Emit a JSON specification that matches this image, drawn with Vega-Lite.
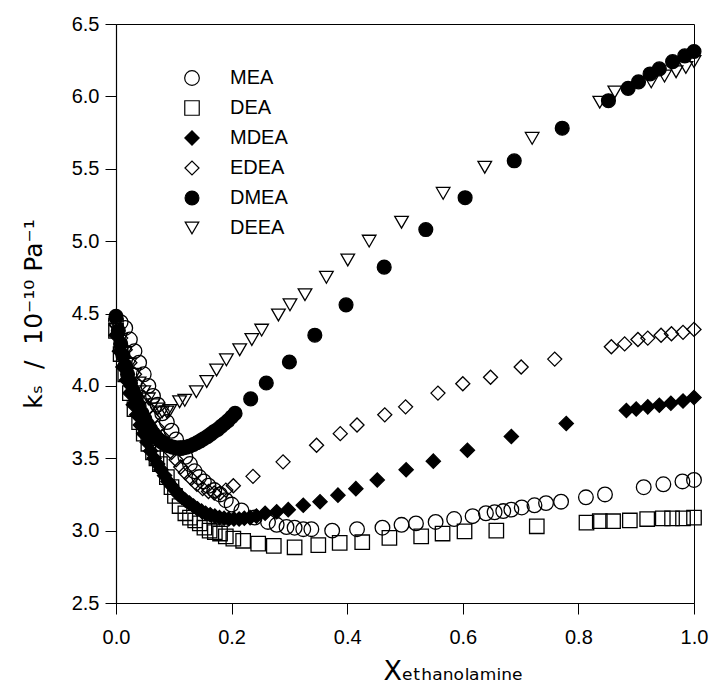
{
  "$schema": "https://vega.github.io/schema/vega-lite/v6.json",
  "width": 578,
  "height": 579,
  "autosize": {"type": "none"},
  "padding": {"left": 116, "top": 24, "right": 16, "bottom": 94},
  "config": {
    "font": "Liberation Sans",
    "view": {"stroke": "black", "strokeWidth": 1}
  },
  "data": {"values": [
    {"series":"MEA","x":0.0,"y":4.45},{"series":"MEA","x":0.008,"y":4.44},{"series":"MEA","x":0.016,"y":4.40},{"series":"MEA","x":0.024,"y":4.32},{"series":"MEA","x":0.032,"y":4.24},{"series":"MEA","x":0.04,"y":4.16},{"series":"MEA","x":0.048,"y":4.08},{"series":"MEA","x":0.056,"y":4.0},{"series":"MEA","x":0.064,"y":3.93},{"series":"MEA","x":0.072,"y":3.87},{"series":"MEA","x":0.08,"y":3.81},{"series":"MEA","x":0.088,"y":3.75},{"series":"MEA","x":0.096,"y":3.69},{"series":"MEA","x":0.104,"y":3.63},{"series":"MEA","x":0.112,"y":3.57},{"series":"MEA","x":0.12,"y":3.51},{"series":"MEA","x":0.128,"y":3.46},{"series":"MEA","x":0.136,"y":3.41},{"series":"MEA","x":0.144,"y":3.37},{"series":"MEA","x":0.152,"y":3.34},{"series":"MEA","x":0.16,"y":3.31},{"series":"MEA","x":0.17,"y":3.28},{"series":"MEA","x":0.18,"y":3.25},{"series":"MEA","x":0.19,"y":3.21},{"series":"MEA","x":0.2,"y":3.18},{"series":"MEA","x":0.217,"y":3.14},{"series":"MEA","x":0.24,"y":3.09},{"series":"MEA","x":0.263,"y":3.06},{"series":"MEA","x":0.278,"y":3.04},{"series":"MEA","x":0.295,"y":3.025},{"series":"MEA","x":0.309,"y":3.02},{"series":"MEA","x":0.324,"y":3.01},{"series":"MEA","x":0.338,"y":3.01},{"series":"MEA","x":0.374,"y":3.0},{"series":"MEA","x":0.417,"y":3.01},{"series":"MEA","x":0.461,"y":3.02},{"series":"MEA","x":0.494,"y":3.04},{"series":"MEA","x":0.519,"y":3.05},{"series":"MEA","x":0.553,"y":3.06},{"series":"MEA","x":0.585,"y":3.08},{"series":"MEA","x":0.617,"y":3.1},{"series":"MEA","x":0.64,"y":3.12},{"series":"MEA","x":0.655,"y":3.127},{"series":"MEA","x":0.67,"y":3.135},{"series":"MEA","x":0.684,"y":3.145},{"series":"MEA","x":0.702,"y":3.16},{"series":"MEA","x":0.724,"y":3.175},{"series":"MEA","x":0.744,"y":3.19},{"series":"MEA","x":0.77,"y":3.2},{"series":"MEA","x":0.813,"y":3.23},{"series":"MEA","x":0.846,"y":3.25},{"series":"MEA","x":0.913,"y":3.3},{"series":"MEA","x":0.947,"y":3.32},{"series":"MEA","x":0.98,"y":3.34},{"series":"MEA","x":1.0,"y":3.35},

    {"series":"DEA","x":0.0,"y":4.38},{"series":"DEA","x":0.008,"y":4.22},{"series":"DEA","x":0.016,"y":4.08},{"series":"DEA","x":0.024,"y":3.95},{"series":"DEA","x":0.032,"y":3.84},{"series":"DEA","x":0.04,"y":3.75},{"series":"DEA","x":0.048,"y":3.67},{"series":"DEA","x":0.056,"y":3.6},{"series":"DEA","x":0.064,"y":3.54},{"series":"DEA","x":0.07,"y":3.5},{"series":"DEA","x":0.076,"y":3.46},{"series":"DEA","x":0.088,"y":3.37},{"series":"DEA","x":0.096,"y":3.3},{"series":"DEA","x":0.102,"y":3.24},{"series":"DEA","x":0.11,"y":3.17},{"series":"DEA","x":0.12,"y":3.12},{"series":"DEA","x":0.128,"y":3.09},{"series":"DEA","x":0.137,"y":3.07},{"series":"DEA","x":0.145,"y":3.05},{"series":"DEA","x":0.153,"y":3.02},{"series":"DEA","x":0.162,"y":3.0},{"series":"DEA","x":0.171,"y":2.99},{"series":"DEA","x":0.18,"y":2.98},{"series":"DEA","x":0.19,"y":2.96},{"series":"DEA","x":0.203,"y":2.945},{"series":"DEA","x":0.22,"y":2.93},{"series":"DEA","x":0.246,"y":2.91},{"series":"DEA","x":0.273,"y":2.895},{"series":"DEA","x":0.309,"y":2.885},{"series":"DEA","x":0.35,"y":2.9},{"series":"DEA","x":0.387,"y":2.915},{"series":"DEA","x":0.426,"y":2.92},{"series":"DEA","x":0.473,"y":2.95},{"series":"DEA","x":0.528,"y":2.96},{"series":"DEA","x":0.565,"y":2.98},{"series":"DEA","x":0.603,"y":2.995},{"series":"DEA","x":0.658,"y":3.0},{"series":"DEA","x":0.728,"y":3.03},{"series":"DEA","x":0.814,"y":3.055},{"series":"DEA","x":0.837,"y":3.065},{"series":"DEA","x":0.86,"y":3.065},{"series":"DEA","x":0.889,"y":3.07},{"series":"DEA","x":0.919,"y":3.08},{"series":"DEA","x":0.946,"y":3.085},{"series":"DEA","x":0.962,"y":3.085},{"series":"DEA","x":0.981,"y":3.085},{"series":"DEA","x":1.0,"y":3.09},

    {"series":"EDEA","x":0.0,"y":4.42},{"series":"EDEA","x":0.008,"y":4.33},{"series":"EDEA","x":0.016,"y":4.25},{"series":"EDEA","x":0.024,"y":4.16},{"series":"EDEA","x":0.032,"y":4.08},{"series":"EDEA","x":0.04,"y":4.0},{"series":"EDEA","x":0.048,"y":3.92},{"series":"EDEA","x":0.056,"y":3.85},{"series":"EDEA","x":0.064,"y":3.78},{"series":"EDEA","x":0.072,"y":3.71},{"series":"EDEA","x":0.08,"y":3.65},{"series":"EDEA","x":0.088,"y":3.59},{"series":"EDEA","x":0.096,"y":3.54},{"series":"EDEA","x":0.104,"y":3.49},{"series":"EDEA","x":0.112,"y":3.44},{"series":"EDEA","x":0.12,"y":3.4},{"series":"EDEA","x":0.13,"y":3.36},{"series":"EDEA","x":0.14,"y":3.32},{"series":"EDEA","x":0.15,"y":3.29},{"series":"EDEA","x":0.16,"y":3.27},{"series":"EDEA","x":0.17,"y":3.26},{"series":"EDEA","x":0.18,"y":3.26},{"series":"EDEA","x":0.19,"y":3.28},{"series":"EDEA","x":0.203,"y":3.31},{"series":"EDEA","x":0.237,"y":3.375},{"series":"EDEA","x":0.289,"y":3.475},{"series":"EDEA","x":0.347,"y":3.59},{"series":"EDEA","x":0.388,"y":3.67},{"series":"EDEA","x":0.417,"y":3.73},{"series":"EDEA","x":0.465,"y":3.8},{"series":"EDEA","x":0.501,"y":3.855},{"series":"EDEA","x":0.557,"y":3.95},{"series":"EDEA","x":0.6,"y":4.015},{"series":"EDEA","x":0.648,"y":4.06},{"series":"EDEA","x":0.701,"y":4.13},{"series":"EDEA","x":0.759,"y":4.185},{"series":"EDEA","x":0.857,"y":4.27},{"series":"EDEA","x":0.88,"y":4.29},{"series":"EDEA","x":0.903,"y":4.32},{"series":"EDEA","x":0.92,"y":4.33},{"series":"EDEA","x":0.943,"y":4.35},{"series":"EDEA","x":0.961,"y":4.36},{"series":"EDEA","x":0.981,"y":4.37},{"series":"EDEA","x":1.0,"y":4.39},

    {"series":"DEEA","x":0.0,"y":4.42},{"series":"DEEA","x":0.008,"y":4.32},{"series":"DEEA","x":0.016,"y":4.23},{"series":"DEEA","x":0.024,"y":4.15},{"series":"DEEA","x":0.032,"y":4.08},{"series":"DEEA","x":0.04,"y":4.02},{"series":"DEEA","x":0.048,"y":3.96},{"series":"DEEA","x":0.056,"y":3.91},{"series":"DEEA","x":0.064,"y":3.87},{"series":"DEEA","x":0.072,"y":3.84},{"series":"DEEA","x":0.08,"y":3.82},{"series":"DEEA","x":0.088,"y":3.82},{"series":"DEEA","x":0.093,"y":3.83},{"series":"DEEA","x":0.11,"y":3.89},{"series":"DEEA","x":0.119,"y":3.9},{"series":"DEEA","x":0.139,"y":3.96},{"series":"DEEA","x":0.157,"y":4.03},{"series":"DEEA","x":0.174,"y":4.11},{"series":"DEEA","x":0.191,"y":4.18},{"series":"DEEA","x":0.214,"y":4.25},{"series":"DEEA","x":0.235,"y":4.32},{"series":"DEEA","x":0.252,"y":4.385},{"series":"DEEA","x":0.281,"y":4.49},{"series":"DEEA","x":0.301,"y":4.56},{"series":"DEEA","x":0.327,"y":4.63},{"series":"DEEA","x":0.364,"y":4.75},{"series":"DEEA","x":0.401,"y":4.87},{"series":"DEEA","x":0.438,"y":5.0},{"series":"DEEA","x":0.494,"y":5.13},{"series":"DEEA","x":0.566,"y":5.33},{"series":"DEEA","x":0.638,"y":5.51},{"series":"DEEA","x":0.72,"y":5.71},{"series":"DEEA","x":0.837,"y":5.96},{"series":"DEEA","x":0.863,"y":6.03},{"series":"DEEA","x":0.926,"y":6.1},{"series":"DEEA","x":0.949,"y":6.14},{"series":"DEEA","x":0.969,"y":6.17},{"series":"DEEA","x":0.986,"y":6.2},{"series":"DEEA","x":1.0,"y":6.24},

    {"series":"MDEA","x":0.0,"y":4.35},{"series":"MDEA","x":0.006,"y":4.24},{"series":"MDEA","x":0.012,"y":4.13},{"series":"MDEA","x":0.018,"y":4.04},{"series":"MDEA","x":0.024,"y":3.95},{"series":"MDEA","x":0.03,"y":3.87},{"series":"MDEA","x":0.036,"y":3.8},{"series":"MDEA","x":0.042,"y":3.73},{"series":"MDEA","x":0.048,"y":3.67},{"series":"MDEA","x":0.054,"y":3.61},{"series":"MDEA","x":0.06,"y":3.55},{"series":"MDEA","x":0.066,"y":3.5},{"series":"MDEA","x":0.072,"y":3.46},{"series":"MDEA","x":0.078,"y":3.42},{"series":"MDEA","x":0.084,"y":3.38},{"series":"MDEA","x":0.09,"y":3.34},{"series":"MDEA","x":0.096,"y":3.31},{"series":"MDEA","x":0.102,"y":3.28},{"series":"MDEA","x":0.108,"y":3.25},{"series":"MDEA","x":0.114,"y":3.23},{"series":"MDEA","x":0.12,"y":3.21},{"series":"MDEA","x":0.127,"y":3.19},{"series":"MDEA","x":0.134,"y":3.17},{"series":"MDEA","x":0.141,"y":3.15},{"series":"MDEA","x":0.148,"y":3.135},{"series":"MDEA","x":0.155,"y":3.12},{"series":"MDEA","x":0.163,"y":3.11},{"series":"MDEA","x":0.171,"y":3.1},{"series":"MDEA","x":0.179,"y":3.09},{"series":"MDEA","x":0.187,"y":3.085},{"series":"MDEA","x":0.195,"y":3.08},{"series":"MDEA","x":0.204,"y":3.08},{"series":"MDEA","x":0.213,"y":3.08},{"series":"MDEA","x":0.222,"y":3.085},{"series":"MDEA","x":0.232,"y":3.09},{"series":"MDEA","x":0.243,"y":3.1},{"series":"MDEA","x":0.258,"y":3.12},{"series":"MDEA","x":0.278,"y":3.13},{"series":"MDEA","x":0.298,"y":3.145},{"series":"MDEA","x":0.324,"y":3.175},{"series":"MDEA","x":0.353,"y":3.2},{"series":"MDEA","x":0.384,"y":3.245},{"series":"MDEA","x":0.415,"y":3.29},{"series":"MDEA","x":0.452,"y":3.35},{"series":"MDEA","x":0.502,"y":3.42},{"series":"MDEA","x":0.549,"y":3.48},{"series":"MDEA","x":0.608,"y":3.555},{"series":"MDEA","x":0.684,"y":3.65},{"series":"MDEA","x":0.779,"y":3.74},{"series":"MDEA","x":0.883,"y":3.83},{"series":"MDEA","x":0.9,"y":3.84},{"series":"MDEA","x":0.92,"y":3.855},{"series":"MDEA","x":0.94,"y":3.866},{"series":"MDEA","x":0.96,"y":3.88},{"series":"MDEA","x":0.981,"y":3.895},{"series":"MDEA","x":1.0,"y":3.92},

    {"series":"DMEA","x":0.0,"y":4.48},{"series":"DMEA","x":0.004,"y":4.38},{"series":"DMEA","x":0.008,"y":4.29},{"series":"DMEA","x":0.012,"y":4.21},{"series":"DMEA","x":0.016,"y":4.14},{"series":"DMEA","x":0.02,"y":4.08},{"series":"DMEA","x":0.025,"y":4.02},{"series":"DMEA","x":0.03,"y":3.96},{"series":"DMEA","x":0.035,"y":3.91},{"series":"DMEA","x":0.04,"y":3.86},{"series":"DMEA","x":0.045,"y":3.81},{"series":"DMEA","x":0.05,"y":3.77},{"series":"DMEA","x":0.055,"y":3.73},{"series":"DMEA","x":0.06,"y":3.7},{"series":"DMEA","x":0.065,"y":3.67},{"series":"DMEA","x":0.07,"y":3.645},{"series":"DMEA","x":0.075,"y":3.625},{"series":"DMEA","x":0.08,"y":3.61},{"series":"DMEA","x":0.086,"y":3.595},{"series":"DMEA","x":0.092,"y":3.585},{"series":"DMEA","x":0.098,"y":3.577},{"series":"DMEA","x":0.104,"y":3.572},{"series":"DMEA","x":0.11,"y":3.57},{"series":"DMEA","x":0.116,"y":3.572},{"series":"DMEA","x":0.122,"y":3.577},{"series":"DMEA","x":0.128,"y":3.585},{"series":"DMEA","x":0.134,"y":3.595},{"series":"DMEA","x":0.14,"y":3.607},{"series":"DMEA","x":0.146,"y":3.62},{"series":"DMEA","x":0.152,"y":3.635},{"series":"DMEA","x":0.158,"y":3.65},{"series":"DMEA","x":0.164,"y":3.667},{"series":"DMEA","x":0.17,"y":3.685},{"series":"DMEA","x":0.176,"y":3.7},{"series":"DMEA","x":0.182,"y":3.72},{"series":"DMEA","x":0.188,"y":3.74},{"series":"DMEA","x":0.194,"y":3.76},{"series":"DMEA","x":0.2,"y":3.785},{"series":"DMEA","x":0.206,"y":3.81},{"series":"DMEA","x":0.233,"y":3.91},{"series":"DMEA","x":0.26,"y":4.02},{"series":"DMEA","x":0.3,"y":4.165},{"series":"DMEA","x":0.344,"y":4.35},{"series":"DMEA","x":0.398,"y":4.56},{"series":"DMEA","x":0.464,"y":4.82},{"series":"DMEA","x":0.536,"y":5.08},{"series":"DMEA","x":0.604,"y":5.3},{"series":"DMEA","x":0.689,"y":5.555},{"series":"DMEA","x":0.772,"y":5.78},{"series":"DMEA","x":0.852,"y":5.97},{"series":"DMEA","x":0.886,"y":6.055},{"series":"DMEA","x":0.904,"y":6.1},{"series":"DMEA","x":0.924,"y":6.155},{"series":"DMEA","x":0.94,"y":6.19},{"series":"DMEA","x":0.963,"y":6.24},{"series":"DMEA","x":0.984,"y":6.28},{"series":"DMEA","x":1.0,"y":6.31}
  ]},
  "mark": {"type": "point", "filled": true, "stroke": "black", "strokeWidth": 1.3, "opacity": 1, "clip": false},
  "encoding": {
    "x": {
      "field": "x", "type": "quantitative",
      "scale": {"domain": [0, 1], "nice": false, "zero": false},
      "axis": {
        "values": [0, 0.2, 0.4, 0.6, 0.8, 1.0], "format": ".1f",
        "grid": false, "labelFontSize": 20, "labelColor": "black", "labelPadding": 13, "labelFlush": false,
        "tickSize": 11, "tickColor": "black", "domainColor": "black", "domainWidth": 1.2,
        "title": "Xₑₜₕₐₙₒₗₐₘᵢₙₑ", "titleFont": "DejaVu Sans", "titleFontSize": 27, "titleFontWeight": "normal", "titleColor": "black",
        "titlePadding": 11, "titleAlign": "left", "titleX": 267
      }
    },
    "y": {
      "field": "y", "type": "quantitative",
      "scale": {"domain": [2.5, 6.5], "nice": false, "zero": false},
      "axis": {
        "values": [2.5, 3.0, 3.5, 4.0, 4.5, 5.0, 5.5, 6.0, 6.5], "format": ".1f",
        "grid": false, "labelFontSize": 20, "labelColor": "black", "labelPadding": 6, "labelFlush": false,
        "tickSize": 11, "tickColor": "black", "domainColor": "black", "domainWidth": 1.2,
        "title": "kₛ\u00a0\u00a0/\u00a0\u00a010⁻¹⁰\u00a0Pa⁻¹", "titleFont": "DejaVu Sans", "titleFontSize": 25, "titleFontWeight": "normal", "titleColor": "black", "titlePadding": 25
      }
    },
    "shape": {
      "field": "series", "type": "nominal",
      "scale": {"domain": ["MEA", "DEA", "MDEA", "EDEA", "DMEA", "DEEA"], "range": ["circle", "square", "diamond", "diamond", "circle", "triangle-down"]},
      "legend": {
        "orient": "none", "legendX": 66, "legendY": 44, "title": null, "padding": 0,
        "labelFontSize": 20, "labelColor": "black", "labelOffset": 28, "rowPadding": 10,
        "symbolStrokeColor": "black", "symbolStrokeWidth": 1.2
      }
    },
    "fill": {
      "field": "series", "type": "nominal",
      "scale": {"domain": ["MEA", "DEA", "MDEA", "EDEA", "DMEA", "DEEA"], "range": ["transparent", "transparent", "black", "transparent", "black", "transparent"]}
    },
    "size": {
      "field": "series", "type": "nominal",
      "scale": {"domain": ["MEA", "DEA", "MDEA", "EDEA", "DMEA", "DEEA"], "range": [215, 185, 320, 320, 245, 300]}
    }
  }
}
